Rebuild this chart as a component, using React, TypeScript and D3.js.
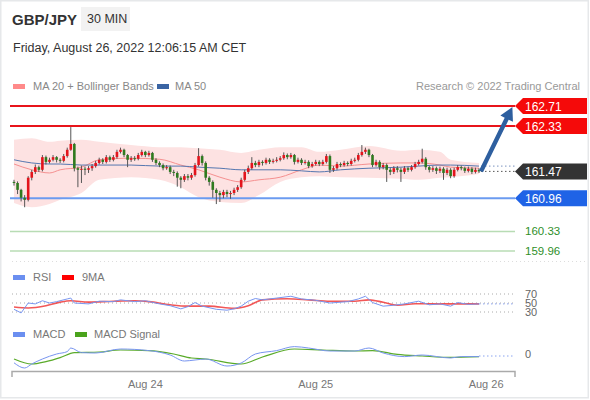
import React from "react";
import * as d3 from "d3";

// ---------- DATA ----------
const FIRST_OPEN = 161.27;
const closes = [161.25,161.12,160.97,160.93,161.35,161.46,161.55,161.50,161.74,161.65,
161.69,161.74,161.69,161.67,161.76,161.88,161.99,161.53,161.50,161.52,
161.50,161.53,161.57,161.63,161.69,161.65,161.74,161.69,161.74,161.84,
161.88,161.78,161.69,161.72,161.71,161.78,161.84,161.78,161.82,161.69,
161.63,161.59,161.53,161.55,161.46,161.44,161.35,161.31,161.38,161.35,
161.40,161.59,161.76,161.63,161.35,161.27,161.12,161.06,161.02,161.08,
161.04,161.06,161.12,161.17,161.31,161.46,161.53,161.63,161.59,161.65,
161.63,161.69,161.65,161.67,161.69,161.72,161.78,161.74,161.78,161.65,
161.69,161.63,161.65,161.57,161.61,161.65,161.61,161.65,161.76,161.50,
161.53,161.61,161.59,161.63,161.61,161.67,161.69,161.78,161.84,161.88,
161.78,161.59,161.65,161.55,161.59,161.50,161.46,161.53,161.50,161.46,
161.53,161.50,161.55,161.61,161.65,161.71,161.55,161.50,161.53,161.48,
161.52,161.44,161.50,161.38,161.50,161.55,161.53,161.48,161.52,161.46,
161.50,161.47];
const highs = [161.31,161.28,161.14,161.02,161.38,161.50,161.60,161.58,161.78,161.77,
161.73,161.78,161.76,161.72,161.80,161.92,162.31,162.01,161.56,161.58,
161.56,161.57,161.61,161.67,161.73,161.72,161.78,161.77,161.78,161.88,
161.92,161.90,161.80,161.76,161.76,161.82,161.88,161.86,161.86,161.84,
161.72,161.66,161.62,161.59,161.58,161.50,161.47,161.38,161.42,161.42,
161.44,161.63,161.91,161.79,161.66,161.38,161.30,161.15,161.10,161.12,
161.12,161.10,161.16,161.21,161.35,161.50,161.58,161.74,161.67,161.69,
161.68,161.73,161.72,161.71,161.74,161.76,161.83,161.81,161.82,161.80,
161.73,161.72,161.69,161.68,161.65,161.69,161.68,161.69,161.80,161.79,
161.57,161.65,161.64,161.67,161.66,161.71,161.73,161.82,161.97,161.92,
161.90,161.80,161.69,161.68,161.63,161.62,161.54,161.57,161.57,161.54,
161.57,161.56,161.59,161.65,161.69,161.90,161.74,161.58,161.57,161.56,
161.56,161.55,161.54,161.53,161.54,161.59,161.58,161.56,161.56,161.55,
161.54,161.53];
const lows = [161.20,161.04,160.90,160.79,160.90,161.30,161.42,161.46,161.47,161.60,
161.62,161.66,161.64,161.63,161.64,161.73,161.86,161.47,161.17,161.25,
161.40,161.44,161.48,161.54,161.60,161.61,161.62,161.65,161.66,161.71,
161.81,161.74,161.55,161.65,161.67,161.68,161.75,161.74,161.75,161.65,
161.59,161.55,161.49,161.50,161.42,161.38,161.18,161.15,161.27,161.30,
161.31,161.37,161.56,161.58,161.30,161.20,160.97,160.85,160.89,160.96,
160.98,160.95,161.02,161.08,161.14,161.28,161.42,161.50,161.55,161.55,
161.58,161.60,161.61,161.62,161.64,161.66,161.69,161.70,161.71,161.60,
161.62,161.59,161.60,161.53,161.54,161.58,161.57,161.58,161.62,161.44,
161.46,161.50,161.55,161.56,161.57,161.58,161.64,161.66,161.75,161.80,
161.74,161.55,161.56,161.50,161.51,161.27,161.40,161.42,161.45,161.27,
161.42,161.46,161.47,161.52,161.58,161.62,161.50,161.45,161.46,161.42,
161.44,161.31,161.40,161.34,161.35,161.47,161.49,161.44,161.45,161.42,
161.43,161.44];

// indicator samples (candle index -> value)
const bandIdx = [0,5,10,13,19,24,33,41,47,52,58,64,69,75,81,86,92,100,109,114,120,123,131];
const bbUpper = [162.07,162.10,162.03,162.05,162.07,162.03,161.97,161.93,161.93,161.91,161.88,161.82,161.88,161.93,161.93,161.84,161.88,161.95,161.86,161.88,161.84,161.69,161.63];
const bbLower = [160.87,160.79,160.85,160.93,161.06,161.31,161.36,161.31,161.17,160.98,160.89,160.87,161.02,161.27,161.36,161.38,161.36,161.35,161.33,161.31,161.35,161.36,161.42];
const ma20 = [161.61,161.50,161.44,161.50,161.55,161.69,161.72,161.70,161.59,161.50,161.36,161.27,161.31,161.36,161.50,161.59,161.57,161.61,161.63,161.63,161.59,161.55,161.53];
const ma50 = [161.69,161.63,161.61,161.61,161.59,161.59,161.59,161.57,161.57,161.55,161.53,161.50,161.50,161.50,161.48,161.46,161.50,161.53,161.55,161.57,161.59,161.59,161.57];

const rsiIdx = [0,2,4,6,8,10,12,15,16,17,21,24,28,30,34,37,41,44,47,49,51,53,57,60,62,64,66,68,70,74,78,81,85,89,94,97,99,101,104,107,110,114,117,120,123,125,128,131];
const rsiVals = [36,28,50,48,55,50,53,59,61,50,48,54,53,57,53,55,48,44,37,42,51,43,36,34,37,43,54,60,57,61,65,59,56,50,53,59,65,51,43,45,48,54,46,48,43,51,47,48];
const rsiMaIdx = [0,4,9,13,16,21,28,34,38,44,49,55,62,66,70,77,83,89,96,100,104,108,113,119,123,131];
const rsiMaVals = [41,39,44,52,55,52,54,55,53,46,43,43,38,44,57,59.5,57,54,54,57,51.5,45,48.5,48,48,48];

const macdIdx = [0,3,5,8,12,15,16,19,23,30,38,44,48,51,54,60,64,68,74,79,83,89,96,100,104,110,115,123,126,131];
const macdVals = [-0.034,-0.06,-0.04,-0.015,0.01,0.022,0.04,0.017,0.015,0.035,0.027,0.005,-0.025,-0.02,-0.015,-0.05,-0.035,0.01,0.027,0.047,0.04,0.025,0.025,0.04,0.015,-0.003,0.005,-0.01,-0.003,-0.003];
const signalIdx = [0,5,9,13,17,24,30,38,45,50,54,64,70,79,87,96,101,108,115,123,131];
const signalVals = [-0.015,-0.04,-0.028,-0.008,0.017,0.02,0.03,0.027,0.01,-0.01,-0.015,-0.04,-0.005,0.035,0.03,0.025,0.027,0.008,0,-0.007,-0.003];

const levelValues = [162.71, 162.33, 161.47, 160.96, 160.33, 159.96];
const levelKinds = ["res", "res", "last", "sup", "tgt", "tgt"];
const rsiLevels = [70, 50, 30];
const dayTicks = [new Date(2022, 7, 24), new Date(2022, 7, 25), new Date(2022, 7, 26)];
const dayLabels = ["Aug 24", "Aug 25", "Aug 26"];
const START = new Date(2022, 7, 23, 5, 30);
const STEP_MS = 30 * 60 * 1000;

// ---------- CHART ----------
const FONT = "'Liberation Sans', Arial, sans-serif";
const t = (i: number) => new Date(START.getTime() + i * STEP_MS);

export default function App() {
  const W = 590, H = 400;
  const n = closes.length;
  const x = d3.scaleTime().domain([t(0), t(n - 1)]).range([14, 479]);
  const y = d3.scaleLinear().domain([159.96, 162.71]).range([251, 106]);
  const yR = d3.scaleLinear().domain([30, 70]).range([312, 294]);
  const yM = d3.scaleLinear().domain([-0.06, 0.05]).range([368, 346]);

  const candles = closes.map((c, i) => ({
    i, o: i === 0 ? FIRST_OPEN : closes[i - 1], c, h: highs[i], l: lows[i],
  }));

  const band = d3.area<number>()
    .x((_, k) => x(t(bandIdx[k])))
    .y0((_, k) => y(bbLower[k]))
    .y1((_, k) => y(bbUpper[k]))
    .curve(d3.curveMonotoneX);
  const mkLine = (idx: number[], sy: (v: number) => number, curve = d3.curveMonotoneX) =>
    d3.line<number>().x((_, k) => x(t(idx[k]))).y((v) => sy(v)).curve(curve);

  const lastX = x(t(n - 1));
  const lineL = 10, lineR = 515;
  const labelPath = (cy: number) =>
    `M515,${cy} L523,${cy - 8} L587,${cy - 8} L587,${cy + 8} L523,${cy + 8} Z`;

  // arrow
  const ax0 = lastX + 2, ay0 = y(161.47);
  const ax1 = x(t(n - 1 + 9.4)), ay1 = y(162.71) + 1;
  const dx = ax1 - ax0, dy = ay1 - ay0, len = Math.hypot(dx, dy);
  const ux = dx / len, uy = dy / len, px = -uy, py = ux;
  const headL = 13, headW = 7, shaftW = 2.2;
  const bx = ax1 - ux * headL, by = ay1 - uy * headL;
  const arrowPts = [
    [ax0 + px * shaftW, ay0 + py * shaftW],
    [bx + px * shaftW, by + py * shaftW],
    [bx + px * headW, by + py * headW],
    [ax1, ay1],
    [bx - px * headW, by - py * headW],
    [bx - px * shaftW, by - py * shaftW],
    [ax0 - px * shaftW, ay0 - py * shaftW],
  ].map((p) => p.join(",")).join(" ");

  const bw = 2.6;

  return (
    <div style={{ position: "fixed", left: 0, top: 0 }}>
      <svg width={W} height={H} style={{ display: "block", fontFamily: FONT }}>
        <rect x={0} y={0} width={W} height={H} fill="#fff" />
        <rect x={0.75} y={0.75} width={587.5} height={397} fill="none" stroke="#e6e8ea" strokeWidth={1.5} />

        {/* header */}
        <text x={12} y={25} fontSize={15} fontWeight="bold" fill="#333">GBP/JPY</text>
        <rect x={81} y={7} width={49} height={24} fill="#f2f2f2" />
        <text x={87} y={23} fontSize={12.5} fill="#333">30 MIN</text>
        <text x={13} y={52} fontSize={12.5} fill="#333">Friday, August 26, 2022 12:06:15 AM CET</text>

        {/* price legend */}
        <rect x={13} y={84} width={12} height={5} fill="#ff8a8a" />
        <text x={33} y={90} fontSize={11} fill="#888">MA 20 + Bollinger Bands</text>
        <rect x={157} y={84} width={12} height={5} fill="#3a64a3" />
        <text x={175} y={90} fontSize={11} fill="#888">MA 50</text>
        <text x={580} y={90} fontSize={11} fill="#999" textAnchor="end">Research © 2022 Trading Central</text>

        {/* bollinger band */}
        <path d={band(bbUpper) || ""} fill="#fde2e2" />
        <path d={mkLine(bandIdx, y)(ma20) || ""} fill="none" stroke="#f59090" strokeWidth={1} />
        <path d={mkLine(bandIdx, y)(ma50) || ""} fill="none" stroke="#5577b0" strokeWidth={1} />

        {/* level lines */}
        {levelValues.map((v, k) => {
          const kind = levelKinds[k];
          const cy = y(v);
          if (kind === "res")
            return <line key={k} x1={lineL} x2={lineR} y1={cy} y2={cy} stroke="#e8141b" strokeWidth={2} />;
          if (kind === "sup")
            return <line key={k} x1={lineL} x2={lineR} y1={cy} y2={cy} stroke="#6b9bf0" strokeWidth={2} />;
          if (kind === "tgt")
            return <line key={k} x1={lineL} x2={lineR} y1={cy} y2={cy} stroke="#b8dcb4" strokeWidth={1.5} />;
          return null;
        })}

        {/* candles */}
        {candles.map((d) => {
          const up = d.c >= d.o;
          const cx = x(t(d.i));
          const top = y(Math.max(d.o, d.c));
          const bot = y(Math.min(d.o, d.c));
          return (
            <g key={d.i}>
              <line x1={cx} x2={cx} y1={y(d.h)} y2={y(d.l)} stroke="#555" strokeWidth={1} />
              <rect x={cx - bw / 2} y={top} width={bw} height={Math.max(1, bot - top)}
                fill={up ? "#e3141c" : "#2f7a1f"} />
            </g>
          );
        })}

        {/* extension dotted lines */}
        <line x1={lastX + 2} x2={lineR} y1={y(ma50[ma50.length - 1])} y2={y(ma50[ma50.length - 1])}
          stroke="#7b93bf" strokeWidth={1} strokeDasharray="1.5,2.5" />
        <line x1={lastX + 2} x2={lineR} y1={y(closes[n - 1])} y2={y(closes[n - 1])}
          stroke="#555" strokeWidth={1} strokeDasharray="1.5,2.5" />

        {/* arrow */}
        <polygon points={arrowPts} fill="#2e5f9f" />

        {/* level labels */}
        {levelValues.map((v, k) => {
          const kind = levelKinds[k];
          const cy = y(v);
          if (kind === "tgt")
            return <text key={k} x={525} y={cy + 4} fontSize={11.5} fill="#2f8f2a">{v.toFixed(2)}</text>;
          const fill = kind === "res" ? "#f50a0a" : kind === "sup" ? "#1f63e6" : "#333";
          return (
            <g key={k}>
              <path d={labelPath(cy)} fill={fill} />
              <text x={525} y={cy + 4.5} fontSize={12} fill="#fff">{v.toFixed(2)}</text>
            </g>
          );
        })}

        <line x1={12} x2={587} y1={261.5} y2={261.5} stroke="#ddd" strokeWidth={1} strokeDasharray="1,3" />

        {/* RSI panel */}
        <rect x={13} y={275} width={12} height={5} fill="#6b8ff0" />
        <text x={33} y={281} fontSize={11} fill="#777">RSI</text>
        <rect x={62} y={275} width={12} height={5} fill="#f00" />
        <text x={82} y={281} fontSize={11} fill="#777">9MA</text>
        {rsiLevels.map((v) => (
          <line key={v} x1={12} x2={lineR} y1={yR(v)} y2={yR(v)} stroke="#aaa" strokeWidth={1} strokeDasharray="1,3" />
        ))}
        <path d={mkLine(rsiMaIdx, yR)(rsiMaVals) || ""} fill="none" stroke="#f03a3a" strokeOpacity={0.85} strokeWidth={1.6} />
        <path d={mkLine(rsiIdx, yR, d3.curveLinear)(rsiVals) || ""} fill="none" stroke="#7895f0" strokeWidth={1} />
        <line x1={lastX} x2={lineR} y1={yR(rsiVals[rsiVals.length - 1])} y2={yR(rsiVals[rsiVals.length - 1])}
          stroke="#8aa4f0" strokeWidth={1} strokeDasharray="1.5,2.5" />
        {rsiLevels.map((v) => (
          <g key={v}>
            <rect x={523} y={yR(v) - 4} width={16} height={9} fill="#fff" />
            <text x={525} y={yR(v) + 4} fontSize={11} fill="#666">{v}</text>
          </g>
        ))}

        {/* MACD panel */}
        <rect x={13} y={332} width={12} height={5} fill="#6b8ff0" />
        <text x={33} y={338} fontSize={11} fill="#777">MACD</text>
        <rect x={75} y={332} width={12} height={5} fill="#4aa31c" />
        <text x={94} y={338} fontSize={11} fill="#777">MACD Signal</text>
        <path d={mkLine(signalIdx, yM)(signalVals) || ""} fill="none" stroke="#5aab2a" strokeWidth={1.2} />
        <path d={mkLine(macdIdx, yM)(macdVals) || ""} fill="none" stroke="#7895f0" strokeWidth={1} />
        <line x1={lastX} x2={lineR} y1={yM(0)} y2={yM(0)} stroke="#8aa4f0" strokeWidth={1} strokeDasharray="1.5,2.5" />
        <text x={525} y={yM(0) + 2} fontSize={11} fill="#666">0</text>

        {/* x axis */}
        <path d="M12,377 V371.5 H515 V377" fill="none" stroke="#aaa" strokeWidth={1.5} />
        {dayTicks.map((d, k) => (
          <text key={k} x={x(d)} y={388} fontSize={11} fill="#777" textAnchor="middle">{dayLabels[k]}</text>
        ))}
      </svg>
    </div>
  );
}
